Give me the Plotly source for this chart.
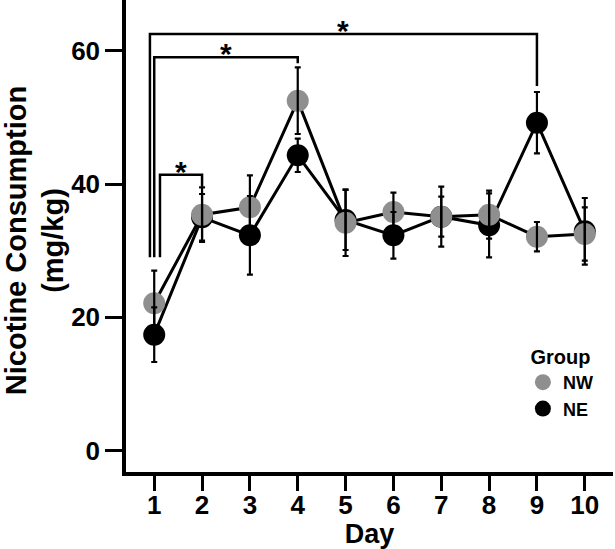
import plotly.graph_objects as go

days = [1, 2, 3, 4, 5, 6, 7, 8, 9, 10]
nw_mean = [22.1, 35.4, 36.5, 52.5, 34.2, 35.8, 35.1, 35.4, 32.1, 32.5]
nw_sem = [4.9, 4.1, 4.8, 5.0, 5.0, 2.9, 4.5, 3.6, 2.2, 4.0]
ne_mean = [17.4, 35.0, 32.3, 44.3, 34.6, 32.3, 35.1, 33.8, 49.2, 32.9]
ne_sem = [4.1, 3.5, 5.9, 2.5, 4.5, 3.5, 3.0, 4.8, 4.6, 5.0]

y_ticks = [0, 20, 40, 60]

# significance comparisons: left leg x, right day, bracket height, right drop end; common leg base
comp_left = [0.91, 1.0, 1.12]
comp_right = [9, 4, 2]
comp_height = [62.5, 59.0, 41.4]
comp_drop = [54.7, 58.1, 39.6]
comp_base = 29.0

GRAY = "#8f8f8f"
FONT = "Liberation Sans"

fig = go.Figure()

for mean, color in ((ne_mean, "black"), (nw_mean, GRAY)):
    fig.add_trace(go.Scatter(
        x=days, y=mean, mode="lines+markers", showlegend=False,
        line=dict(color="black", width=3),
        marker=dict(color=color, size=22),
    ))
# error bars drawn over the markers
for mean, sem in ((ne_mean, ne_sem), (nw_mean, nw_sem)):
    fig.add_trace(go.Scatter(
        x=days, y=mean, mode="markers", showlegend=False, hoverinfo="skip",
        marker=dict(size=1, opacity=0),
        error_y=dict(type="data", array=sem, color="black", thickness=2.2, width=3),
    ))
# legend entries
fig.add_trace(go.Scatter(x=[None], y=[None], mode="markers", name="NW",
                         marker=dict(color=GRAY, size=22)))
fig.add_trace(go.Scatter(x=[None], y=[None], mode="markers", name="NE",
                         marker=dict(color="black", size=22)))

for xl, xr, h, d in zip(comp_left, comp_right, comp_height, comp_drop):
    fig.add_shape(type="path",
                  path=f"M {xl},{comp_base} L {xl},{h} L {xr},{h} L {xr},{d}",
                  line=dict(color="black", width=2.5), xref="x", yref="y")
    fig.add_annotation(x=(xl + xr) / 2, y=h, text="*", showarrow=False,
                       yanchor="bottom", yshift=-15,
                       font=dict(family=FONT, size=30, color="black", weight="bold"))

fig.add_annotation(x=-0.188, y=0.49, xref="paper", yref="paper",
                   text="Nicotine Consumption<br>(mg/kg)", textangle=-90,
                   showarrow=False, xanchor="center", yanchor="middle",
                   font=dict(family=FONT, size=29, color="black", weight="bold"))

fig.update_layout(
    width=615, height=549,
    margin=dict(l=126, r=2, t=0, b=77),
    plot_bgcolor="white", paper_bgcolor="white",
    font=dict(family=FONT, color="black"),
    showlegend=True,
    legend=dict(x=0.815, y=0.284, xanchor="left", yanchor="top",
                bgcolor="rgba(0,0,0,0)",
                title=dict(text="\u00a0Group", font=dict(family=FONT, size=20, weight="bold")),
                font=dict(family=FONT, size=18, weight="bold"),
                itemsizing="trace", tracegroupgap=0),
    xaxis=dict(range=[0.41, 10.59], tickvals=days, ticktext=[str(d) for d in days],
               showline=True, linecolor="black", linewidth=3.5,
               ticks="outside", ticklen=15, tickwidth=3, tickcolor="black",
               ticklabelstandoff=-8,
               showgrid=False, zeroline=False,
               tickfont=dict(family=FONT, size=26, weight="bold"),
               title=dict(text="Day", standoff=2,
                          font=dict(family=FONT, size=27, weight="bold"))),
    yaxis=dict(range=[-3.2, 67.6], tickvals=y_ticks,
               showline=True, linecolor="black", linewidth=3.5,
               ticks="outside", ticklen=17, tickwidth=3, tickcolor="black",
               showgrid=False, zeroline=False,
               tickfont=dict(family=FONT, size=26, weight="bold")),
)

fig.write_html("out.html", config={"displayModeBar": False},
               post_script="document.body.style.margin='0';")
